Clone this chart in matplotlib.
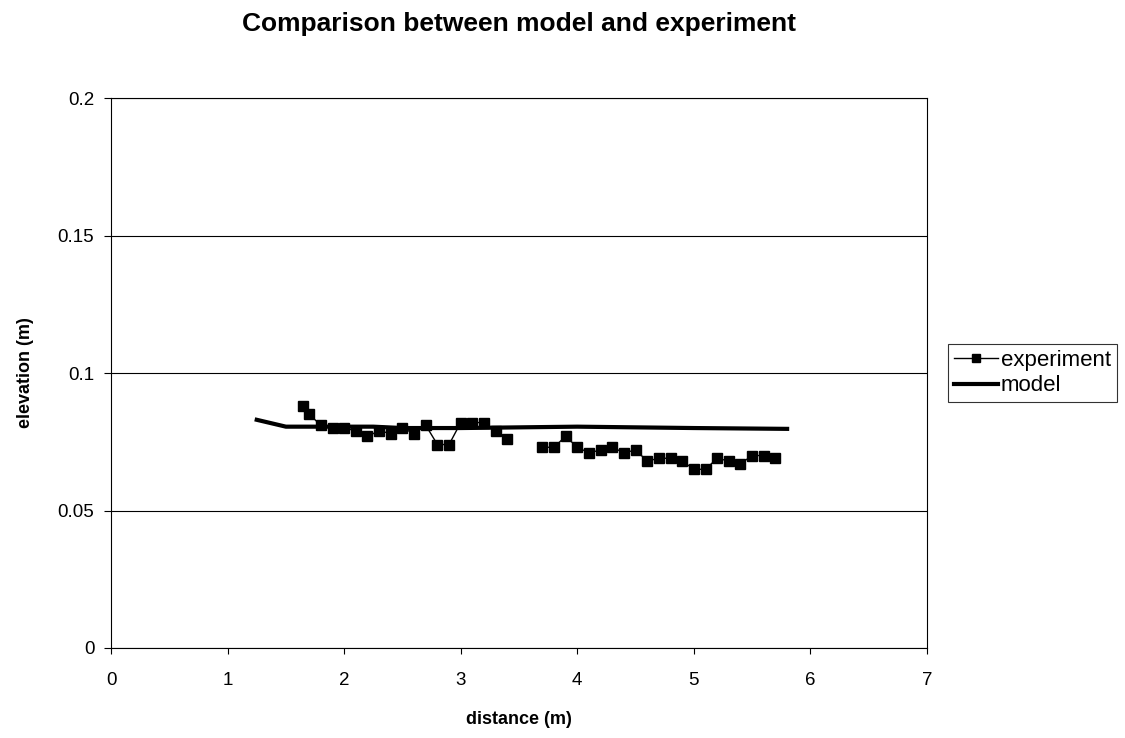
import numpy as np
import matplotlib.pyplot as plt

plt.rcParams['font.family'] = ['Liberation Sans', 'DejaVu Sans']

# experiment data (gap between 3.4 and 3.7)
exp_x = [1.65, 1.7, 1.8, 1.9, 2.0, 2.1, 2.2, 2.3, 2.4, 2.5, 2.6, 2.7, 2.8, 2.9,
         3.0, 3.1, 3.2, 3.3, 3.4, 3.5, 3.6, 3.7, 3.8, 3.9, 4.0, 4.1, 4.2, 4.3,
         4.4, 4.5, 4.6, 4.7, 4.8, 4.9, 5.0, 5.1, 5.2, 5.3, 5.4, 5.5, 5.6, 5.7]
exp_y = [0.088, 0.085, 0.081, 0.080, 0.080, 0.079, 0.077, 0.079, 0.078, 0.080,
         0.078, 0.081, 0.074, 0.074, 0.082, 0.082, 0.082, 0.079, 0.076, np.nan,
         np.nan, 0.073, 0.073, 0.077, 0.073, 0.071, 0.072, 0.073, 0.071, 0.072,
         0.068, 0.069, 0.069, 0.068, 0.065, 0.065, 0.069, 0.068, 0.067, 0.070,
         0.070, 0.069]

# model
model_x = [1.25, 1.5, 2.0, 2.25, 2.5, 3.0, 4.0, 5.0, 5.8]
model_y = [0.083, 0.0805, 0.0805, 0.0805, 0.080, 0.080, 0.0805, 0.080, 0.0797]

fig = plt.figure(figsize=(11.25, 7.38), dpi=100)
ax = fig.add_axes([0.0987, 0.122, 0.7253, 0.745])

ax.plot(exp_x, exp_y, color='black', linewidth=1, marker='s', markersize=6.5,
        label='experiment')
ax.plot(model_x, model_y, color='black', linewidth=3, label='model')

ax.set_xlim(0, 7)
ax.set_ylim(0, 0.2)
ax.set_xticks(range(0, 8))
ax.set_yticks([0, 0.05, 0.1, 0.15, 0.2])
ax.set_yticklabels(['0', '0.05', '0.1', '0.15', '0.2'])
ax.grid(axis='y', color='black', linewidth=0.8)
ax.tick_params(labelsize=13.5, direction='out')
ax.tick_params(axis='x', length=4, pad=13)
ax.tick_params(axis='y', length=5, pad=7)
for s in ax.spines.values():
    s.set_linewidth(0.8)

ax.set_xlabel('distance (m)', fontsize=13, fontweight='bold', labelpad=16)
ax.set_ylabel('elevation (m)', fontsize=13, fontweight='bold', labelpad=17)
fig.text(0.4613, 0.968, 'Comparison between model and experiment',
         fontsize=19, fontweight='bold', ha='center', va='center')

leg = ax.legend(loc='center left', bbox_to_anchor=(1.026, 0.5), fontsize=16,
                frameon=True, fancybox=False, edgecolor='black', borderpad=0.25,
                handlelength=2.0, handletextpad=0.12, labelspacing=0.2,
                borderaxespad=0, markerscale=0.8)
leg.get_frame().set_linewidth(0.8)

fig.savefig('out.png', dpi=100)
